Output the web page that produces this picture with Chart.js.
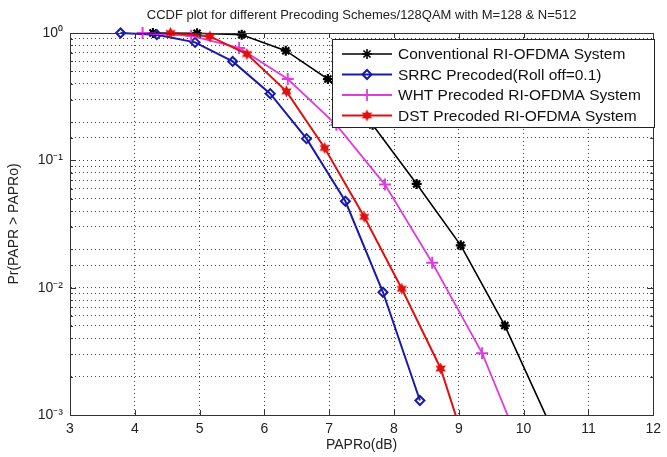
<!DOCTYPE html>
<html><head><meta charset="utf-8">
<script src="https://cdn.jsdelivr.net/npm/chart.js@4/dist/chart.umd.min.js"></script>
<style>html,body{margin:0;padding:0;background:#fff;overflow:hidden}</style>
</head><body>
<canvas id="c" width="667" height="457"></canvas>
<script>
// ---- text ----
const titleText = 'CCDF plot for different Precoding Schemes/128QAM with M=128 & N=512';
const xTitle = 'PAPRo(dB)';
const yTitle = 'Pr(PAPR > PAPRo)';
const seriesNames = ['Conventional RI-OFDMA System', 'SRRC Precoded(Roll off=0.1)', 'WHT Precoded RI-OFDMA System', 'DST Precoded RI-OFDMA System'];
// ---- ticks ----
const xMin = 3, xMax = 12;
const yTickValues = [0.001, 0.01, 0.1, 1];
const yTickLabels = ['10\u207B\u00B3', '10\u207B\u00B2', '10\u207B\u00B9', '10\u2070'];
// ---- data ----
const convX = [4.28, 4.96, 5.65, 6.33, 6.98, 7.67, 8.35, 9.03, 9.71, 10.39];
const convY = [1.0, 0.995, 0.97, 0.726, 0.435, 0.19, 0.0653, 0.0215, 0.00504, 0.00088];
const srrcX = [3.78, 4.34, 4.93, 5.51, 6.09, 6.65, 7.25, 7.83, 8.40];
const srrcY = [1.0, 0.97, 0.844, 0.598, 0.334, 0.148, 0.0477, 0.0092, 0.0013];
const whtX = [4.12, 4.87, 5.61, 6.36, 7.11, 7.86, 8.59, 9.36, 10.11];
const whtY = [1.0, 0.95, 0.763, 0.435, 0.19, 0.0645, 0.0157, 0.00306, 0.00036];
const dstX = [4.55, 5.16, 5.73, 6.34, 6.93, 7.54, 8.12, 8.72, 9.32];
const dstY = [1.0, 0.94, 0.684, 0.348, 0.125, 0.036, 0.0098, 0.00232, 0.00026];

const FONT = '"Liberation Sans", Arial, Helvetica, sans-serif';
Chart.defaults.font.family = FONT;
Chart.defaults.color = '#222';

function starCanvas(color, size, n, inner) {
  const c = document.createElement('canvas');
  c.width = c.height = size;
  const g = c.getContext('2d');
  g.fillStyle = color;
  g.beginPath();
  const cx = size / 2, cy = size / 2, R = size / 2 - 0.5, r = R * inner;
  for (let i = 0; i < n * 2; i++) {
    const a = -Math.PI / 2 + i * Math.PI / n;
    const rr = (i % 2) ? r : R;
    g.lineTo(cx + rr * Math.cos(a), cy + rr * Math.sin(a));
  }
  g.closePath(); g.fill();
  return c;
}
const redStar = starCanvas('#e01010', 13, 6, 0.55);

function pts(xs, ys) { return xs.map((x, i) => ({x: x, y: ys[i]})); }
const clipBox = {left: 10, top: 10, right: 10, bottom: 0};

const datasets = [
  {label: seriesNames[0], data: pts(convX, convY), borderColor: '#000', backgroundColor: '#000', borderWidth: 1.6,
   pointStyle: 'star', pointRadius: 5, pointBorderWidth: 2.2, order: 4},
  {label: seriesNames[1], data: pts(srrcX, srrcY), borderColor: '#1a1aa8', backgroundColor: 'rgba(0,0,0,0)', borderWidth: 2,
   pointStyle: 'rectRot', pointRadius: 4.5, pointBorderWidth: 2, order: 3},
  {label: seriesNames[2], data: pts(whtX, whtY), borderColor: '#dd3ddd', backgroundColor: '#dd3ddd', borderWidth: 1.8,
   pointStyle: 'cross', pointRadius: 6, pointBorderWidth: 2, order: 2},
  {label: seriesNames[3], data: pts(dstX, dstY), borderColor: '#e01010', backgroundColor: '#e01010', borderWidth: 2,
   pointStyle: redStar, pointRadius: 6, pointBorderWidth: 1, order: 1}
];
datasets.forEach(d => { d.clip = clipBox; d.tension = 0; d.fill = false; d.pointHoverRadius = d.pointRadius; });

const isMajor = v => { const e = Math.log10(v); return Math.abs(e - Math.round(e)) < 1e-6; };

const framePlugin = {
  id: 'frame',
  afterDatasetsDraw(chart) {
    const ctx = chart.ctx, a = chart.chartArea;
    const xs = chart.scales.x, ys = chart.scales.y;
    ctx.save();
    ctx.strokeStyle = '#333'; ctx.lineWidth = 1;
    ctx.beginPath();
    xs.ticks.forEach(t => {
      const p = Math.round(xs.getPixelForValue(t.value)) + 0.5;
      ctx.moveTo(p, a.bottom); ctx.lineTo(p, a.bottom - 5);
      ctx.moveTo(p, a.top); ctx.lineTo(p, a.top + 5);
    });
    ys.ticks.forEach(t => {
      const p = Math.round(ys.getPixelForValue(t.value)) + 0.5;
      const L = isMajor(t.value) ? 6 : 3;
      ctx.moveTo(a.left, p); ctx.lineTo(a.left + L, p);
      ctx.moveTo(a.right, p); ctx.lineTo(a.right - L, p);
    });
    ctx.stroke();
    ctx.strokeRect(Math.round(a.left) + 0.5, Math.round(a.top) + 0.5, Math.round(a.right - a.left), Math.round(a.bottom - a.top));
    ctx.restore();
  },
  afterDraw(chart) {
    const ctx = chart.ctx, a = chart.chartArea;
    const bx = a.left + 262, by = a.top + 6, bw = 322, bh = 88;
    ctx.save();
    ctx.fillStyle = '#fff'; ctx.strokeStyle = '#222'; ctx.lineWidth = 1;
    ctx.fillRect(bx, by, bw, bh);
    ctx.strokeRect(Math.round(bx) + 0.5, Math.round(by) + 0.5, bw, bh);
    chart.data.datasets.forEach((d, i) => {
      const y = by + 15 + i * 20.5;
      const x0 = bx + 10, x1 = bx + 60;
      ctx.strokeStyle = d.borderColor; ctx.lineWidth = d.borderWidth;
      ctx.beginPath(); ctx.moveTo(x0, y); ctx.lineTo(x1, y); ctx.stroke();
      ctx.fillStyle = d.backgroundColor;
      Chart.helpers.drawPoint(ctx, {pointStyle: d.pointStyle, radius: d.pointRadius, borderWidth: d.pointBorderWidth, rotation: 0}, (x0 + x1) / 2, y);
      ctx.fillStyle = '#111';
      ctx.font = '15.5px ' + FONT;
      ctx.textBaseline = 'middle'; ctx.textAlign = 'left';
      ctx.fillText(d.label, bx + 66, y + 1);
    });
    ctx.restore();
  }
};

new Chart(document.getElementById('c'), {
  type: 'line',
  data: {datasets: datasets},
  options: {
    responsive: false, animation: false, devicePixelRatio: 1,
    layout: {padding: {left: 0, right: 5, top: 0, bottom: 0}},
    plugins: {
      legend: {display: false}, tooltip: {enabled: false},
      title: {display: true, text: titleText, fullSize: false, color: '#222',
        font: {size: 13, weight: 'normal', lineHeight: 1.2}, padding: {top: 7.2, bottom: 10.2}}
    },
    scales: {
      x: {type: 'linear', min: xMin, max: xMax,
        ticks: {stepSize: 1, autoSkip: false, maxRotation: 0, font: {size: 14}, color: '#222', padding: 6},
        grid: {color: '#444', lineWidth: 1, drawTicks: false},
        border: {display: true, color: '#333', width: 1, dash: [1, 3]},
        title: {display: true, text: xTitle, font: {size: 14}, color: '#222', padding: {top: 0, bottom: 3.6}},
        afterFit: s => { s.height = 42; }
      },
      y: {type: 'logarithmic', min: yTickValues[0], max: yTickValues[yTickValues.length - 1],
        ticks: {autoSkip: false, font: {size: 14}, color: '#222', padding: 7,
          callback: v => { const i = yTickValues.findIndex(t => Math.abs(Math.log10(t) - Math.log10(v)) < 1e-6); return i >= 0 ? yTickLabels[i] : ''; }},
        grid: {color: '#444', lineWidth: 1, drawTicks: false},
        border: {display: true, color: '#333', width: 1, dash: [1, 3]},
        title: {display: true, text: yTitle, font: {size: 14}, color: '#222', padding: {top: 5.6, bottom: 0}},
        afterFit: s => { s.width = 70; }
      }
    }
  },
  plugins: [framePlugin]
});
</script>
</body></html>
